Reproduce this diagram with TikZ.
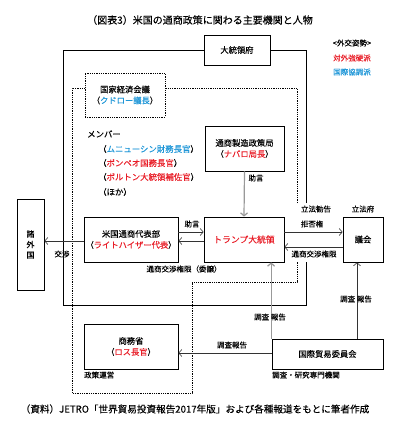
\documentclass[tikz,border=0pt]{standalone}
\usepackage{fontspec}
\setmainfont{Noto Sans CJK JP}[FakeBold=0.2]
\usetikzlibrary{arrows.meta}
\definecolor{hard}{RGB}{232,30,40}
\definecolor{coop}{RGB}{30,150,215}
\begin{document}
\begin{tikzpicture}[x=1pt,y=-1pt,
 box/.style={draw,line width=0.8pt,inner sep=0pt,align=center,font=\fontsize{8.3}{11}\selectfont},
 lbl/.style={font=\fontsize{7.5}{9}\selectfont,inner sep=1pt},
 arr/.style={-{Straight Barb[length=3pt,width=7pt]},line width=0.6pt,draw=black!80},
 garr/.style={-{Straight Barb[length=3pt,width=7pt]},line width=1.2pt,draw=black!40},
 frame/.style={line width=0.8pt},
 dframe/.style={line width=0.8pt,densely dotted},
]
\useasboundingbox (0,0) rectangle (402,433);
% title
\node[font=\fontsize{10}{12}\selectfont] (title) at (200,20) {（図表3）米国の通商政策に関わる主要機関と人物};
% legend
\node[lbl] (leg) at (352,43) {<外交姿勢>};
\node[lbl,text=hard] (leg1) at (352,58) {対外強硬派};
\node[lbl,text=coop] (leg2) at (352,72) {国際協調派};

% boxes
\node[box,fill=white,minimum width=66pt,minimum height=30pt] (wh) at (237,50) {大統領府};
\node[box,dframe,minimum width=80pt,minimum height=44pt] (nec) at (125,95) {国家経済会議\\（\textcolor{coop}{クドロー議長}）};
\node[box,minimum width=79pt,minimum height=45pt] (otmp) at (244.5,148.5) {通商製造政策局\\（\textcolor{hard}{ナバロ局長}）};
\node[box,minimum width=80pt,minimum height=45pt,text=hard,font=\fontsize{8.8}{11}\selectfont] (trump) at (244,239.5) {トランプ大統領};
\node[box,minimum width=94pt,minimum height=45pt] (ustr) at (131,239.5) {米国通商代表部\\（\textcolor{hard}{ライトハイザー代表}）};
\node[box,minimum width=27pt,minimum height=91pt,font=\fontsize{8}{10.5}\selectfont] (foreign) at (30.5,244.5) {諸\\外\\国};
\node[box,minimum width=40pt,minimum height=45pt] (congress) at (363,239.5) {議会};
\node[box,minimum width=111pt,minimum height=30pt] (itc) at (327.5,354) {国際貿易委員会};
\node[box,minimum width=94pt,minimum height=45pt] (doc) at (131,346.5) {商務省\\（\textcolor{hard}{ロス長官}）};

% solid frame (Executive Office)
\draw[frame] (wh.west |- 0,50) -- (63,50) -- (63,305) -- (306,305) -- (306,262);
\draw[frame] (306,203) -- (306,50) -- (wh.east |- 0,50);
% dotted frame (NEC)
\draw[dframe] (nec.west |- 0,88) -- (72,88) -- (72,393) -- (192,393) -- (192,282) -- (297,282) -- (297,262);
\draw[dframe] (297,203) -- (297,88) -- (nec.east |- 0,88);

% members
\begin{scope}[every node/.style={font=\fontsize{8.4}{10}\selectfont,anchor=west,inner sep=0pt}]
\node (mem) at (87,134) {メンバー};
\node (m1) at (98,149) {（\textcolor{coop}{ムニューシン財務長官}）};
\node (m2) at (98,163) {（\textcolor{hard}{ポンペオ国務長官}）};
\node (m3) at (98,177) {（\textcolor{hard}{ボルトン大統領補佐官}）};
\node (m4) at (98,192) {（ほか）};
\end{scope}

% connectors
\draw[garr] (otmp.south) -- (trump.north);
\node[lbl] (l1) at (256,178) {助言};

\draw[arr] ([yshift=7.5pt]ustr.east) -- ([yshift=7.5pt]trump.west);
\node[lbl] (l2) at (192,224) {助言};
\draw[arr] ([yshift=-1.5pt]trump.west) -- ([yshift=-1.5pt]ustr.east);
\node[lbl] (l3) at (184,269) {通商交渉権限（委譲）};

\draw[arr] ([yshift=-1.5pt]ustr.west) coordinate (a) -- (a -| foreign.east);
\node[lbl] (l4) at (62,254) {交渉};

\draw[arr] ([yshift=7.5pt]trump.east) -- ([yshift=7.5pt]congress.west);
\node[lbl] (l5) at (316,209) {立法勧告};
\node[lbl] (l6) at (312,224) {拒否権};
\node[lbl] (l7) at (363,209) {立法府};
\draw[arr] ([yshift=-7.5pt]congress.west) -- ([yshift=-7.5pt]trump.east);
\node[lbl] (l8) at (314,254) {通商交渉権限};

\draw[garr] ([xshift=-0.5pt]itc.north west) coordinate (b) -- (b |- trump.south);
\node[lbl] (l9) at (270,317) {調査\ 報告};
\draw[arr] ([xshift=29.5pt]itc.north) coordinate (c) -- (c |- congress.south);
\node[lbl] (l10) at (356,299) {調査\ 報告};
\draw[arr] ([yshift=1pt]itc.west) coordinate (d) -- (d -| doc.east);
\node[lbl] (l11) at (232,345) {調査報告};

\node[lbl,anchor=west] (l12) at (83,375) {政策運営};
\node[lbl,anchor=west] (l13) at (271,375) {調査・研究専門機関};

% source
\node[font=\fontsize{9.6}{12}\selectfont] (src) at (195,409) {（資料）JETRO「世界貿易投資報告2017年版」および各種報道をもとに筆者作成};
\end{tikzpicture}
\end{document}
